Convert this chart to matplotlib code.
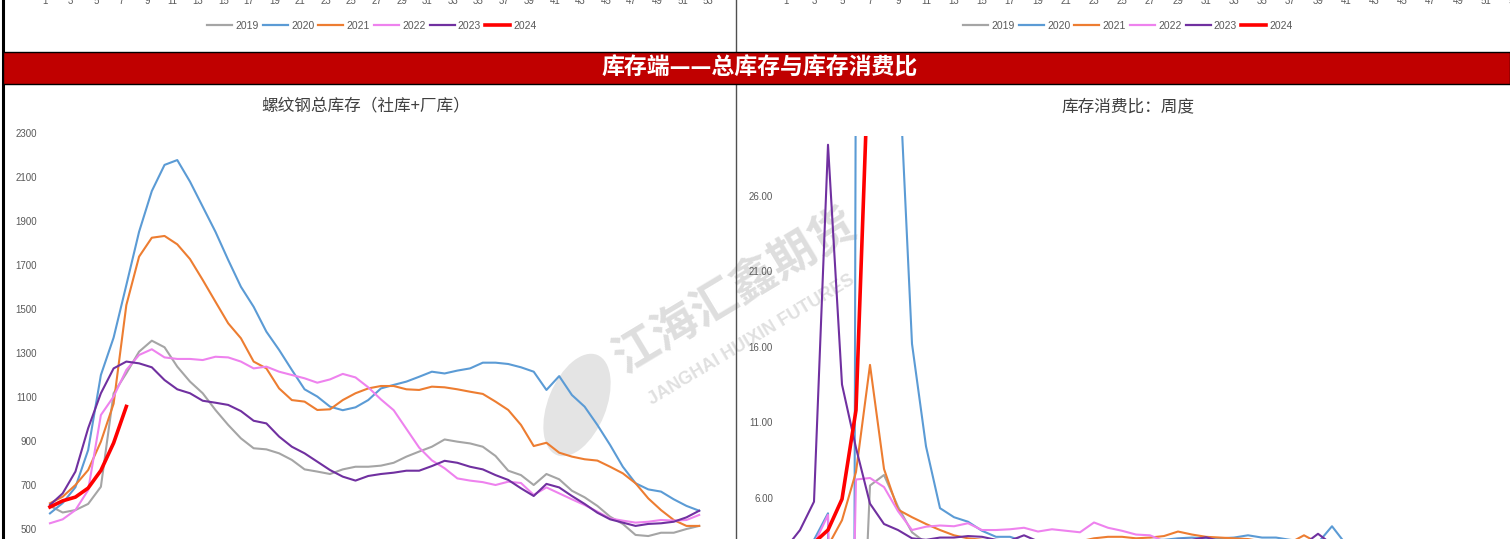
import matplotlib.pyplot as plt
from matplotlib.lines import Line2D
from matplotlib.patches import Rectangle, Ellipse
from matplotlib.transforms import IdentityTransform

plt.rcParams['font.family'] = ['Liberation Sans', 'Noto Sans CJK SC', 'DejaVu Sans']

W, H = 1510, 539

# 数据
weeks = list(range(1, 53))
years = ["2019", "2020", "2021", "2022", "2023", "2024"]
colors = ["#A5A5A5", "#5B9BD5", "#ED7D31", "#EE82EE", "#7030A0", "#FF0000"]

# 螺纹钢总库存（社库+厂库），万吨
stock_2019 = [605, 575, 586, 614, 692, 1117, 1208, 1306, 1356, 1326, 1238, 1170, 1117, 1041, 973, 912,
              867, 862, 844, 814, 771, 761, 750, 771, 783, 783, 788, 801, 829, 852, 874, 907, 897, 889,
              874, 832, 765, 745, 700, 750, 726, 674, 644, 605, 556, 523, 473, 468, 483, 483, 500, 514]
stock_2020 = [571, 618, 690, 859, 1200, 1370, 1609, 1851, 2036, 2155, 2177, 2079, 1965, 1851, 1723, 1601,
              1510, 1397, 1314, 1223, 1135, 1102, 1056, 1040, 1053, 1086, 1139, 1155, 1170, 1192, 1215, 1207,
              1220, 1230, 1256, 1256, 1250, 1235, 1215, 1132, 1195, 1109, 1056, 973, 882, 783, 708, 680,
              670, 635, 605, 583]
stock_2021 = [617, 647, 700, 768, 897, 1070, 1518, 1738, 1824, 1832, 1794, 1727, 1632, 1533, 1435, 1367,
              1261, 1230, 1139, 1086, 1079, 1041, 1044, 1086, 1117, 1139, 1150, 1150, 1135, 1132, 1147, 1144,
              1135, 1124, 1114, 1079, 1041, 973, 877, 892, 847, 829, 817, 811, 783, 753, 708, 639, 586,
              541, 514, 514]
stock_2022 = [526, 544, 586, 677, 1018, 1102, 1223, 1291, 1317, 1280, 1273, 1273, 1268, 1283, 1280, 1261,
              1230, 1238, 1215, 1200, 1185, 1165, 1180, 1205, 1189, 1144, 1089, 1040, 955, 870, 812, 776,
              730, 720, 713, 700, 715, 709, 655, 689, 662, 635, 609, 579, 548, 538, 529, 533, 541, 538,
              541, 564]
stock_2023 = [609, 662, 761, 958, 1117, 1230, 1261, 1253, 1235, 1177, 1135, 1117, 1083, 1074, 1064, 1036,
              992, 980, 920, 874, 844, 806, 768, 738, 720, 741, 750, 756, 765, 765, 786, 810, 801, 783,
              771, 745, 723, 685, 650, 705, 689, 650, 614, 574, 544, 529, 514, 523, 526, 533, 553, 583]
stock_2024 = [600, 628, 645, 686, 766, 891, 1057]

# 库存消费比：周度
ratio_2019 = [2.7, 2.8, 2.9, 3.0, 2.4, -15.0, 6.8, 7.5, 5.4, 3.7, 3.0, 2.9, 2.9, 2.8, 2.8, 2.9, 2.8, 2.8,
              2.7, 2.8, 2.9, 2.9, 2.8, 2.8, 2.9, 3.0, 2.9, 2.9, 2.8, 2.8, 2.9, 3.0, 3.0, 2.9, 2.8, 2.8,
              2.9, 2.8, 2.7, 2.8, 2.8, 2.7, 2.6, 2.6, 2.5, 2.5, 2.4, 2.4, 2.5, 2.5, 2.6, 2.6]
ratio_2020 = [2.6, 2.8, 3.2, 4.96, -300.0, 40.0, 90.0, 70.0, 36.0, 16.2, 9.4, 5.3, 4.7, 4.4, 3.8, 3.4,
              3.4, 3.1, 3.0, 3.0, 3.1, 3.1, 3.0, 3.0, 3.1, 3.1, 3.2, 3.2, 3.3, 3.35, 3.3, 3.3, 3.35, 3.5,
              3.35, 3.35, 3.2, 3.1, 3.0, 4.1, 2.9, 2.8, 2.8, 2.7, 2.6, 2.5, 2.5, 2.4, 2.4, 2.5, 2.5, 2.6]
ratio_2021 = [2.5, 2.6, 2.7, 2.8, 4.5, 7.7, 14.8, 7.9, 5.2, 4.7, 4.25, 3.85, 3.5, 3.3, 3.2, 3.1, 3.0,
              3.0, 3.1, 3.0, 3.1, 3.1, 3.3, 3.4, 3.4, 3.3, 3.35, 3.45, 3.75, 3.55, 3.4, 3.35, 3.3, 3.25,
              3.1, 3.0, 3.0, 3.5, 3.0, 2.9, 2.8, 2.8, 2.7, 2.7, 2.6, 2.5, 2.5, 2.4, 2.4, 2.5, 2.5, 2.6]
ratio_2022 = [2.6, 2.7, 2.9, 4.85, -38.0, 7.2, 7.3, 6.7, 5.1, 3.85, 4.07, 4.15, 4.1, 4.3, 3.85, 3.85,
              3.9, 4.0, 3.75, 3.9, 3.8, 3.7, 4.35, 4.0, 3.8, 3.55, 3.5, 3.1, 3.0, 2.9, 2.9, 3.0, 3.0,
              2.9, 2.8, 2.8, 2.9, 2.9, 2.8, 2.7, 2.7, 2.6, 2.6, 2.5, 2.5, 2.4, 2.4, 2.4, 2.5, 2.5, 2.6, 2.6]
ratio_2023 = [2.67, 3.85, 5.73, 29.4, 13.5, 9.3, 5.6, 4.25, 3.85, 3.3, 3.2, 3.35, 3.35, 3.45, 3.4, 3.2,
              3.15, 3.5, 3.1, 3.0, 3.0, 3.1, 3.0, 3.1, 3.1, 3.0, 3.1, 3.1, 3.2, 3.2, 3.37, 3.1, 3.0, 3.0,
              2.9, 2.9, 3.0, 2.9, 3.6, 2.9, 2.8, 2.8, 2.7, 2.6, 2.5, 2.5, 2.4, 2.4, 2.5, 2.5, 2.6, 2.6]
ratio_2024 = [2.8, 2.9, 3.0, 3.85, 5.9, 11.8, 38.0]

stock_series = [stock_2019, stock_2020, stock_2021, stock_2022, stock_2023, stock_2024]
ratio_series = [ratio_2019, ratio_2020, ratio_2021, ratio_2022, ratio_2023, ratio_2024]


def px_box(x0, y0, x1, y1):
    # 像素坐标（左上角为原点）转换为 figure 坐标
    return [x0 / W, 1 - y1 / H, (x1 - x0) / W, (y1 - y0) / H]


fig = plt.figure(figsize=(W / 100, H / 100), dpi=100)

# 上方两张图的残留部分：x 轴刻度与图例
for box, pos in [((38.6, -58, 714.4, -8), 372), ((779, -58, 1521, -8), 1128)]:
    ax = fig.add_axes(px_box(*box))
    ax.set_facecolor('none')
    for s in ax.spines.values():
        s.set_visible(False)
    ax.set_xlim(0.5, 53.5)
    ax.set_xticks(list(range(1, 54, 2)))
    ax.set_yticks([])
    ax.tick_params(length=0, labelsize=7, labelcolor='#595959', pad=3)
    handles = [Line2D([], [], color=c, lw=2.6 if y == "2024" else 1.6) for y, c in zip(years, colors)]
    fig.legend(handles, years, loc='center', bbox_to_anchor=(pos / W, 1 - 26 / H), ncol=6,
               frameon=False, fontsize=7.5, handlelength=2.4, handletextpad=0.3, columnspacing=0.4,
               labelcolor='#595959')

# 左图：螺纹钢总库存
ax_l = fig.add_axes(px_box(43.6, 133, 718.3, 573))
for y, c, vals in zip(years, colors, stock_series):
    ax_l.plot(weeks[:len(vals)], vals, color=c, lw=2.6 if y == "2024" else 1.5, label=y)
ax_l.set_xlim(0.5, 53.5)
ax_l.set_ylim(300, 2300)
ax_l.set_yticks(list(range(300, 2301, 200)))
ax_l.tick_params(length=0, labelsize=7, labelcolor='#595959', pad=4.7)

# 右图：库存消费比
ax_r = fig.add_axes(px_box(779, 135.7, 1521, 573))
for y, c, vals in zip(years, colors, ratio_series):
    ax_r.plot(weeks[:len(vals)], vals, color=c, lw=2.6 if y == "2024" else 1.5, label=y)
ax_r.set_xlim(0.5, 53.5)
ax_r.set_ylim(1, 30)
ax_r.set_yticks([1, 6, 11, 16, 21, 26])
ax_r.set_yticklabels([f"{v:.2f}" for v in [1, 6, 11, 16, 21, 26]])
ax_r.tick_params(length=0, labelsize=7, labelcolor='#595959', pad=4.3)

for ax in [ax_l, ax_r]:
    ax.set_facecolor('none')
    ax.set_xticks([])
    for s in ax.spines.values():
        s.set_visible(False)

fig.text(366 / W, 1 - 106 / H, "螺纹钢总库存（社库+厂库）", ha='center', va='center',
         fontsize=12, color='#404040', family=['Noto Sans CJK SC', 'DejaVu Sans'])
fig.text(1128 / W, 1 - 107 / H, "库存消费比：周度", ha='center', va='center',
         fontsize=12, color='#404040', family=['Noto Sans CJK SC', 'DejaVu Sans'])

# 水印
fig.add_artist(Ellipse((577, H - 405), 58, 108, angle=-22, transform=IdentityTransform(),
                       facecolor='#e4e4e4', edgecolor='none', zorder=-2))
fig.text(735 / W, 1 - 292 / H, "江海汇鑫期货", rotation=31, ha='center', va='center', fontsize=33,
         weight='bold', color='#dedede', family=['Noto Sans CJK SC'], zorder=-1)
fig.text(752 / W, 1 - 340 / H, "JANGHAI HUIXIN FUTURES", rotation=31, ha='center', va='center',
         fontsize=13, weight='bold', color='#e0e0e0', zorder=-1)

# 边框与分隔线
fig.add_artist(Line2D([3 / W, 3 / W], [0, 1], color='black', lw=2.2))
fig.add_artist(Line2D([736 / W, 736 / W], [0, 1], color='#505050', lw=1))

# 红色标题栏
fig.add_artist(Rectangle((3 / W, 1 - 84 / H), (W - 3) / W, 32 / H, transform=fig.transFigure,
                         facecolor='#C00000', edgecolor='black', lw=1, zorder=5))
fig.text(760 / W, 1 - 68 / H, "库存端——总库存与库存消费比", ha='center', va='center', fontsize=16.5,
         weight='bold', color='white', family=['Noto Sans CJK SC', 'DejaVu Sans'], zorder=6)

fig.savefig("out.png", dpi=100)
